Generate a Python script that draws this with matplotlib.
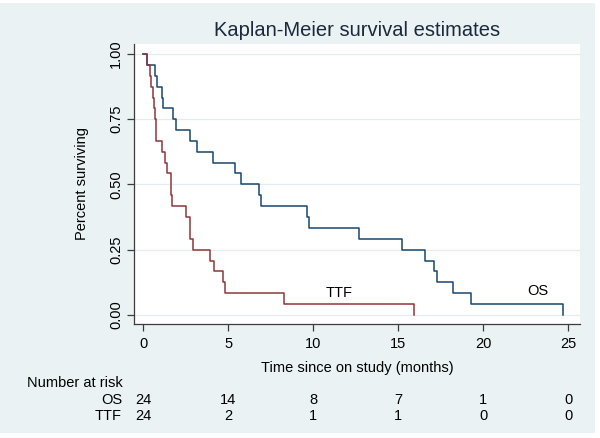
import numpy as np
import matplotlib
matplotlib.use("Agg")
from matplotlib import pyplot as plt
from matplotlib import transforms
from matplotlib.patches import Rectangle

plt.rcParams['font.family'] = ['Liberation Sans', 'DejaVu Sans']

# Kaplan-Meier step points (months, fraction surviving)
os_time = [0, 0.22, 0.69, 0.79, 1.10, 1.18, 1.73, 1.90, 2.75, 3.14, 4.10, 5.40, 5.73,
           6.80, 6.90, 9.60, 9.75, 12.70, 15.20, 16.60, 17.10, 17.30, 18.20, 19.30, 24.70]
os_surv = [1.0, 0.958, 0.917, 0.875, 0.833, 0.792, 0.750, 0.708, 0.667, 0.625, 0.583, 0.542, 0.500,
           0.458, 0.417, 0.375, 0.333, 0.292, 0.250, 0.208, 0.167, 0.125, 0.083, 0.042, 0.0]

ttf_time = [0, 0.22, 0.39, 0.47, 0.55, 0.60, 0.67, 0.73, 1.12, 1.26, 1.41, 1.61, 1.70,
            2.51, 2.75, 2.94, 3.92, 4.18, 4.71, 4.80, 8.30, 15.90]
ttf_surv = [1.0, 0.958, 0.917, 0.875, 0.833, 0.792, 0.750, 0.667, 0.625, 0.583, 0.542, 0.458, 0.417,
            0.375, 0.292, 0.250, 0.208, 0.167, 0.125, 0.083, 0.042, 0.0]

risk_times = [0, 5, 10, 15, 20, 25]
os_risk = [24, 14, 8, 7, 1, 0]
ttf_risk = [24, 2, 1, 1, 0, 0]

W, H = 600, 438
bg = '#eaf2f3'
navy = '#1a476f'
maroon = '#90353b'

fig = plt.figure(figsize=(6, 4.38), dpi=100, facecolor='white')
fig.patches.append(Rectangle((0, 5 / H), 595 / W, 430 / H, transform=fig.transFigure,
                             facecolor=bg, edgecolor='none', zorder=-10))

ax = fig.add_axes([134 / W, 1 - 324 / H, (580 - 134) / W, (324 - 44) / H])
ax.set_facecolor('white')

ax.step(os_time, os_surv, where='post', color=navy, lw=1.1)
ax.step(ttf_time, ttf_surv, where='post', color=maroon, lw=1.1)

ax.text(11.5, 0.086, 'TTF', ha='center', va='center', fontsize=10.5)
ax.text(23.2, 0.09, 'OS', ha='center', va='center', fontsize=10.5)

ax.set_xlim(-0.55, 25.69)
ax.set_ylim(-0.0345, 1.038)
ax.set_xticks(risk_times)
ax.set_yticks([0, 0.25, 0.5, 0.75, 1.0])
ax.set_yticklabels(['0.00', '0.25', '0.50', '0.75', '1.00'], rotation=90, va='center')
ax.grid(axis='y', color='#e3edf0', lw=0.9)
ax.set_axisbelow(True)

for s in ['top', 'right']:
    ax.spines[s].set_visible(False)
for s in ['left', 'bottom']:
    ax.spines[s].set_color('#3c3c3c')
    ax.spines[s].set_linewidth(0.9)
ax.tick_params(axis='both', length=5, width=0.9, color='#3c3c3c', labelsize=10.5)
ax.tick_params(axis='x', pad=4)
ax.tick_params(axis='y', pad=3)

ax.set_xlabel('Time since on study (months)', fontsize=10.5)
ax.xaxis.set_label_coords(0.5, (324 - 368) / 280)
ax.xaxis.label.set_va('center')
ax.set_ylabel('Percent surviving', fontsize=10.5)
ax.yaxis.set_label_coords((82 - 134) / 446, 0.5)
ax.yaxis.label.set_va('center')

fig.text(357 / W, 1 - 30 / H, 'Kaplan-Meier survival estimates', ha='center', va='center',
         fontsize=14.5, color='#1a2a3c')

# number at risk table
trans = transforms.blended_transform_factory(ax.transData, fig.transFigure)
fig.text(27 / W, 1 - 383 / H, 'Number at risk', ha='left', va='center', fontsize=10.5)
fig.text(122 / W, 1 - 400 / H, 'OS', ha='right', va='center', fontsize=10.5)
fig.text(122 / W, 1 - 416 / H, 'TTF', ha='right', va='center', fontsize=10.5)
for t, a, b in zip(risk_times, os_risk, ttf_risk):
    ax.text(t, 1 - 400 / H, str(a), transform=trans, ha='center', va='center', fontsize=10.5)
    ax.text(t, 1 - 416 / H, str(b), transform=trans, ha='center', va='center', fontsize=10.5)

fig.savefig('out.png', dpi=100, facecolor='white')
